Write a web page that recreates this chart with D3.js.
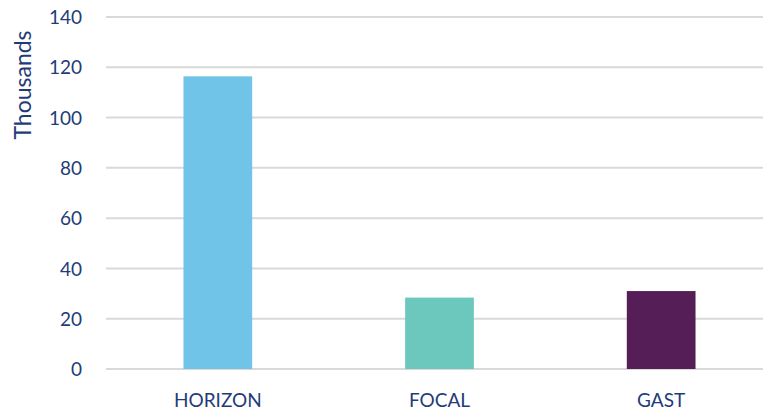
<!DOCTYPE html>
<html>
<head>
<meta charset="utf-8">
<script src="https://cdn.jsdelivr.net/npm/d3@7"></script>
<style>
  html, body { margin: 0; padding: 0; background: #ffffff; }
  svg { display: block; }
  .tick text { font-family: Lato, "Open Sans", sans-serif; }
</style>
</head>
<body>
<svg id="chart" width="763" height="410"></svg>
<script>
// Programme totals, in thousands
const categories = ["HORIZON", "FOCAL", "GAST"];
const values = [116.4, 28.4, 31.0];
const barColors = ["#70c4e8", "#6cc8bd", "#561e57"];
const yTicks = [0, 20, 40, 60, 80, 100, 120, 140];
const yTitle = "Thousands";

const W = 763, H = 410;
const margin = { top: 17, right: -9, bottom: 41, left: 107 };
const textColor = "#1f3c78";

const svg = d3.select("#chart");

const x = d3.scaleBand()
  .domain(categories)
  .range([margin.left, W - margin.right])
  .paddingInner(0.69)
  .paddingOuter(0.345);

const y = d3.scaleLinear()
  .domain([0, 140])
  .range([H - margin.bottom, margin.top]);

// Horizontal gridlines
svg.append("g")
  .selectAll("line")
  .data(yTicks)
  .join("line")
  .attr("x1", 106)
  .attr("x2", W)
  .attr("y1", d => y(d))
  .attr("y2", d => y(d))
  .attr("stroke", "#d9d9d9")
  .attr("stroke-width", 2);

// Bars
svg.append("g")
  .selectAll("rect")
  .data(categories)
  .join("rect")
  .attr("x", d => x(d))
  .attr("width", x.bandwidth())
  .attr("y", (d, i) => y(values[i]))
  .attr("height", (d, i) => y(0) - y(values[i]))
  .attr("fill", (d, i) => barColors[i]);

// Y axis labels
const yAxis = svg.append("g")
  .attr("transform", `translate(${82},0)`)
  .call(d3.axisLeft(y).tickValues(yTicks).tickSize(0).tickPadding(0));
yAxis.select(".domain").remove();
yAxis.selectAll("text")
  .attr("fill", textColor)
  .attr("font-size", 19)
  .attr("dy", "0.35em");

// X axis labels
const xAxis = svg.append("g")
  .attr("transform", `translate(0,${H - margin.bottom})`)
  .call(d3.axisBottom(x).tickSize(0).tickPadding(0));
xAxis.select(".domain").remove();
xAxis.selectAll("text")
  .attr("fill", textColor)
  .attr("font-size", 19)
  .attr("dy", null)
  .attr("y", 38);

// Y axis title
svg.append("text")
  .attr("transform", `translate(31,85) rotate(-90)`)
  .attr("text-anchor", "middle")
  .attr("font-family", "Lato, 'Open Sans', sans-serif")
  .attr("font-size", 23)
  .attr("fill", textColor)
  .text(yTitle);
</script>
</body>
</html>
